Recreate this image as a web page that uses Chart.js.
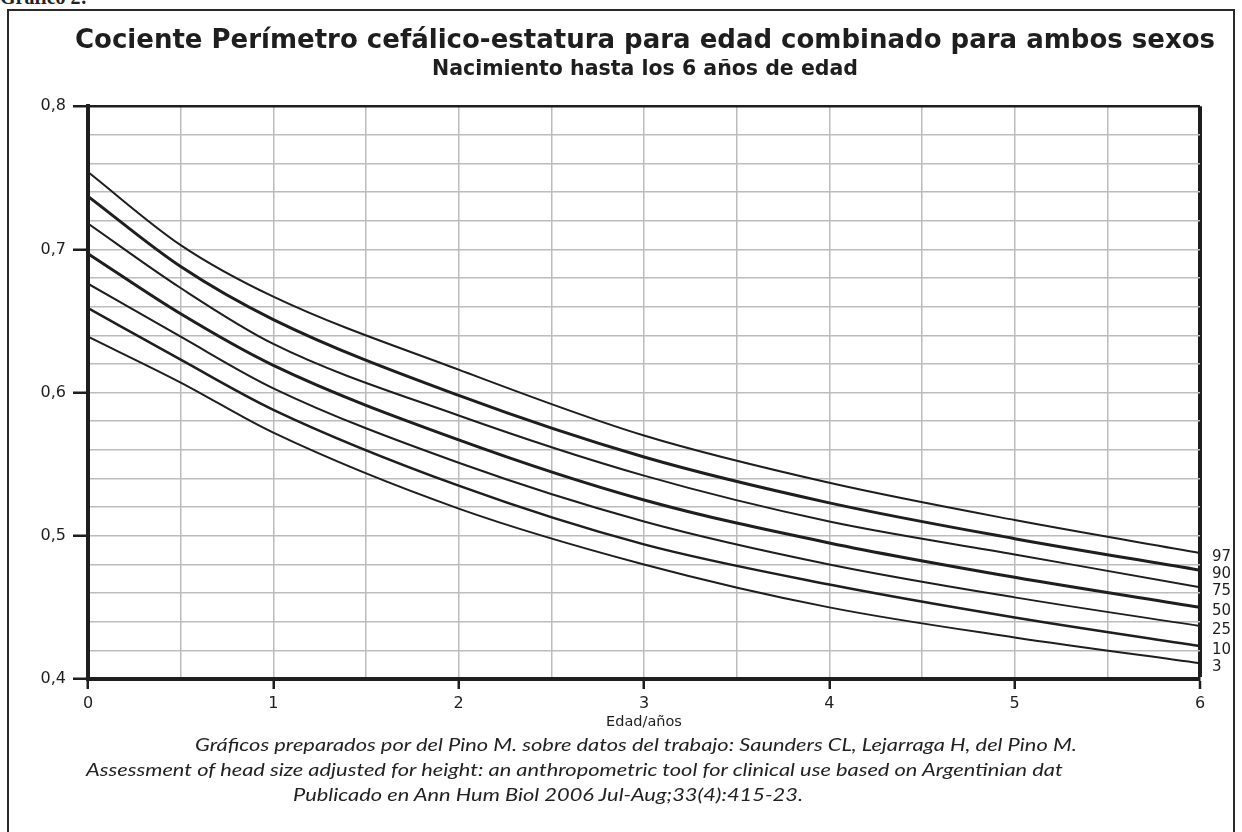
<!DOCTYPE html>
<html>
<head>
<meta charset="utf-8">
<script src="https://cdn.jsdelivr.net/npm/chart.js@4.4.1/dist/chart.umd.min.js"></script>
<style>
  body { margin: 0; background: #fff; }
  #wrap { position: relative; width: 1242px; height: 832px; overflow: hidden; }
  #frame { position: absolute; left: 7px; top: 9px; width: 1224px; height: 840px; border: 2px solid #2a2a2a; }
  #fig { position: absolute; left: 0px; top: -14px; font: bold 20px "Liberation Serif", serif; color: #222; }
  canvas { position: absolute; left: 0; top: 0; }
  .note { position: absolute; font: italic 17px Lato, sans-serif; color: #222; white-space: nowrap;
          transform-origin: 0 50%; }
</style>
</head>
<body>
<div id="wrap">
  <div id="fig">Gráfico 2:</div>
  <div id="frame"></div>
  <canvas id="canvas" width="1290" height="832"></canvas>
  <div class="note" style="left:195px; top:734px; transform: scaleX(1.285);">Gráficos preparados por del Pino M. sobre datos del trabajo: Saunders CL, Lejarraga H, del Pino M.</div>
  <div class="note" style="left:86px; top:759px; transform: scaleX(1.285);">Assessment of head size adjusted for height: an anthropometric tool for clinical use based on Argentinian dat</div>
  <div class="note" style="left:293px; top:784px; transform: scaleX(1.285);">Publicado en Ann Hum Biol 2006 Jul-Aug;33(4):415-23.</div>
</div>
<script>
// edad en años
const ages = [0, 0.5, 1, 2, 3, 4, 5, 6];

// percentiles
const p97 = [0.754, 0.703, 0.667, 0.616, 0.570, 0.537, 0.511, 0.488];
const p90 = [0.737, 0.688, 0.651, 0.598, 0.555, 0.523, 0.498, 0.476];
const p75 = [0.718, 0.673, 0.634, 0.584, 0.542, 0.510, 0.487, 0.464];
const p50 = [0.697, 0.655, 0.619, 0.567, 0.525, 0.495, 0.471, 0.450];
const p25 = [0.676, 0.639, 0.603, 0.551, 0.510, 0.480, 0.457, 0.437];
const p10 = [0.659, 0.623, 0.588, 0.535, 0.494, 0.466, 0.443, 0.423];
const p3 = [0.639, 0.607, 0.572, 0.519, 0.480, 0.450, 0.429, 0.411];

const percentileLabels = ["97", "90", "75", "50", "25", "10", "3"];
const xTicks = [0, 1, 2, 3, 4, 5, 6];
const yTicks = [0.4, 0.5, 0.6, 0.7, 0.8];

const series = [p97, p90, p75, p50, p25, p10, p3];
const widths = [2, 3, 2, 3, 2, 2.5, 2];

const GRID = "#bcbcbc";
const INK = "#1e1e1e";
const FONT = "DejaVu Sans";

function isOn(v, list) {
  return list.some((t) => Math.abs(t - v) < 1e-6);
}

// etiquetas 97, 90 ... al final de cada curva
const endLabels = {
  id: "endLabels",
  afterDatasetsDraw(chart) {
    const c = chart.ctx;
    c.save();
    c.font = "15px " + FONT;
    c.fillStyle = INK;
    c.textBaseline = "middle";
    chart.data.datasets.forEach((ds, i) => {
      const meta = chart.getDatasetMeta(i);
      const last = meta.data[meta.data.length - 1];
      c.fillText(ds.label, chart.chartArea.right + 12, last.y + 4);
    });
    c.restore();
  },
};

drawChart();
function drawChart() {
  const ctx = document.getElementById("canvas").getContext("2d");
  const datasets = series.map((vals, i) => ({
    label: percentileLabels[i],
    data: vals.map((v, j) => ({ x: ages[j], y: v })),
    borderColor: INK,
    borderWidth: widths[i],
    pointRadius: 0,
    fill: false,
    cubicInterpolationMode: "monotone",
  }));

  new Chart(ctx, {
    type: "line",
    data: { datasets },
    plugins: [endLabels],
    options: {
      responsive: false,
      animation: false,
      devicePixelRatio: 1,
      layout: { padding: { left: 0, right: 0, top: 0, bottom: 103 } },
      plugins: {
        legend: { display: false },
        tooltip: { enabled: false },
        title: {
          display: true,
          text: "Cociente Perímetro cefálico-estatura para edad combinado para ambos sexos",
          color: INK,
          font: { family: FONT, size: 26, weight: "bold", lineHeight: 1.1 },
          padding: { top: 27, bottom: 3 },
        },
        subtitle: {
          display: true,
          text: "Nacimiento hasta los 6 años de edad",
          color: INK,
          font: { family: FONT, size: 20.5, weight: "bold", lineHeight: 1.1 },
          padding: { top: 0, bottom: 25 },
        },
      },
      scales: {
        x: {
          type: "linear",
          min: 0,
          max: 6,
          afterFit: (s) => { s.height = 50; },
          ticks: {
            stepSize: 0.5,
            autoSkip: false,
            maxRotation: 0,
            padding: 7,
            color: INK,
            font: { family: FONT, size: 16, lineHeight: 1 },
            callback: (v) => (isOn(v, xTicks) ? String(v) : ""),
          },
          grid: {
            color: (c) => (c.tick && c.tick.value === 6 ? INK : GRID),
            lineWidth: (c) => (c.tick && c.tick.value === 6 ? 4 : 1.5),
            tickColor: (c) => (c.tick && isOn(c.tick.value, xTicks) ? INK : "rgba(0,0,0,0)"),
            tickLength: 10,
            tickWidth: 2.5,
          },
          border: { display: true, color: INK, width: 4 },
          title: {
            display: true,
            text: "Edad/años",
            color: INK,
            font: { family: FONT, size: 14.5, lineHeight: 1 },
            padding: { top: -5, bottom: 0 },
          },
        },
        y: {
          min: 0.4,
          max: 0.8,
          afterFit: (s) => { s.width = 88; },
          ticks: {
            stepSize: 0.02,
            autoSkip: false,
            padding: 7,
            color: INK,
            font: { family: FONT, size: 16 },
            callback: (v) => (isOn(v, yTicks) ? v.toFixed(1).replace(".", ",") : ""),
          },
          grid: {
            color: (c) => (c.tick && Math.abs(c.tick.value - 0.8) < 1e-6 ? INK : GRID),
            lineWidth: (c) => (c.tick && Math.abs(c.tick.value - 0.8) < 1e-6 ? 2.5 : 1.5),
            tickColor: (c) => (c.tick && isOn(c.tick.value, yTicks) ? INK : "rgba(0,0,0,0)"),
            tickLength: 15,
            tickWidth: 2.5,
          },
          border: { display: true, color: INK, width: 4 },
        },
        // espacio a la derecha para las etiquetas de percentil
        yRight: {
          position: "right",
          min: 0.4,
          max: 0.8,
          afterFit: (s) => { s.width = 90; },
          ticks: { display: false },
          grid: { display: false, drawOnChartArea: false },
          border: { display: false },
        },
      },
    },
  });
}
</script>
</body>
</html>
